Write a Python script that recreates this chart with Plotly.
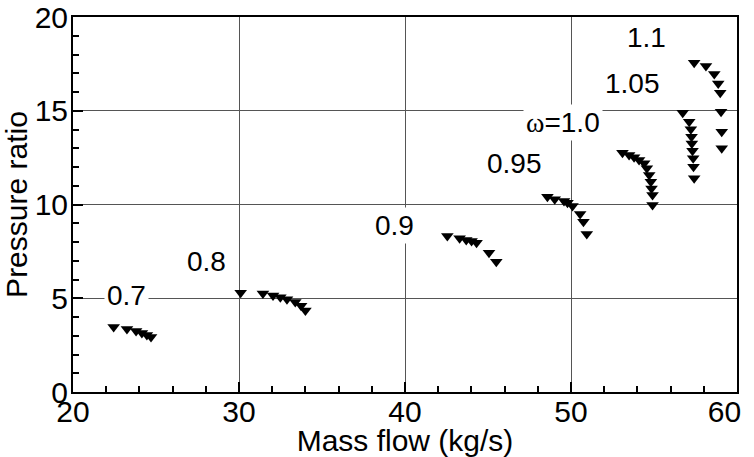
import plotly.graph_objects as go

# Speed lines (mass flow kg/s, pressure ratio)
x_070 = [22.45, 23.25, 23.8, 24.15, 24.45, 24.7]
y_070 = [3.47, 3.36, 3.25, 3.15, 3.04, 2.93]

x_080 = [30.1, 31.44, 32.05, 32.49, 32.89, 33.39, 33.74, 34.0]
y_080 = [5.3, 5.25, 5.15, 5.05, 4.95, 4.8, 4.6, 4.35]

x_090 = [42.55, 43.29, 43.69, 44.01, 44.31, 45.06, 45.5]
y_090 = [8.32, 8.2, 8.11, 8.05, 7.96, 7.43, 6.95]

x_095 = [48.58, 49.02, 49.58, 49.79, 50.09, 50.55, 50.75, 50.95]
y_095 = [10.42, 10.28, 10.19, 10.1, 9.92, 9.49, 9.08, 8.43]

x_100 = [53.1, 53.5, 53.8, 54.1, 54.41, 54.57, 54.71, 54.81, 54.85, 54.91, 54.91]
y_100 = [12.76, 12.64, 12.52, 12.37, 12.2, 11.93, 11.57, 11.22, 10.86, 10.51, 9.97]

x_105 = [56.73, 57.12, 57.22, 57.26, 57.28, 57.32, 57.36, 57.38, 57.42]
y_105 = [14.9, 14.42, 14.01, 13.62, 13.26, 12.87, 12.46, 12.02, 11.4]

x_110 = [57.42, 58.13, 58.63, 58.87, 58.99, 59.04, 59.08, 59.08]
y_110 = [17.56, 17.39, 16.96, 16.46, 15.96, 14.95, 13.88, 13.0]

series = [(x_070, y_070), (x_080, y_080), (x_090, y_090), (x_095, y_095),
          (x_100, y_100), (x_105, y_105), (x_110, y_110)]

# Speed labels and their positions
label_text = ["0.7", "0.8", "0.9", "0.95",
              "<span style='font-family:Liberation Serif, Times New Roman, serif'>\u03c9</span>=1.0",
              "1.05", "1.1"]
label_x = [23.2, 28.07, 39.35, 46.6, 49.53, 53.7, 54.54]
label_y = [5.17, 6.95, 8.9, 12.2, 14.35, 16.48, 18.93]

# Axis ticks
x_tickvals = [20, 30, 40, 50, 60]
x_ticktext = ["20", "30", "40", "50", "60\u00a0\u00a0\u00a0"]
y_tickvals = [0, 5, 10, 15, 20]
y_ticktext = ["0", "5", "10", "15", "20"]

FONT = "Liberation Sans, Arial, Helvetica, sans-serif"

fig = go.Figure()
for xs, ys in series:
    fig.add_trace(go.Scatter(
        x=xs, y=ys, mode="markers", showlegend=False, hoverinfo="skip",
        marker=dict(symbol="triangle-down", size=11, color="black",
                    line=dict(width=0))))

for t, ax, ay in zip(label_text, label_x, label_y):
    fig.add_annotation(x=ax, y=ay, xref="x", yref="y", text=t,
                       showarrow=False, bgcolor="white", borderpad=2,
                       font=dict(size=28, color="black", family=FONT))

axis_common = dict(
    showline=True, mirror=True, linecolor="black", linewidth=2,
    showgrid=True, gridcolor="#555555", gridwidth=1,
    ticks="inside", ticklen=10, tickwidth=1.5, tickcolor="black",
    tickfont=dict(size=30, color="black", family=FONT),
    zeroline=False, automargin=False, ticklabeloverflow="allow",
    tickmode="array",
)

fig.update_xaxes(range=[20, 60], tickvals=x_tickvals, ticktext=x_ticktext,
                 ticklabelstandoff=-8,
                 minor=dict(dtick=2, tick0=20, ticks="inside", ticklen=6, tickcolor="black", showgrid=False),
                 title=dict(text="Mass flow (kg/s)", standoff=3,
                            font=dict(size=30, color="black", family=FONT)),
                 **axis_common)
fig.update_yaxes(range=[0, 20], tickvals=y_tickvals, ticktext=y_ticktext,
                 ticklabelstandoff=-3,
                 minor=dict(dtick=1, tick0=0, ticks="inside", ticklen=6, tickcolor="black", showgrid=False),
                 title=dict(text="Pressure ratio", standoff=11,
                            font=dict(size=30, color="black", family=FONT)),
                 **axis_common)

fig.update_layout(
    width=754, height=457,
    margin=dict(l=73, r=17, t=17, b=65),
    plot_bgcolor="white", paper_bgcolor="white",
    font=dict(family=FONT, color="black"),
)

# remove the browser's default 8px body margin so the figure fills the window
fig.write_html("out.html", config={"displayModeBar": False},
               post_script="document.body.style.margin='0px';")
